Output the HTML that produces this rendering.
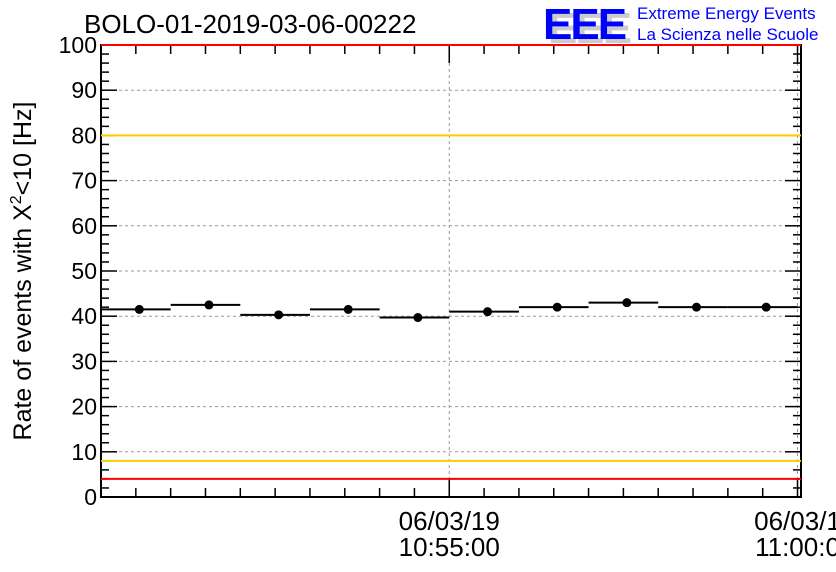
<!DOCTYPE html>
<html><head><meta charset="utf-8"><style>
body{margin:0;background:#fff;}
svg{display:block;font-family:"Liberation Sans",sans-serif;}
</style></head><body>
<svg id="chart" width="836" height="572" viewBox="0 0 836 572">
<text x="84" y="33" font-size="26" fill="#000">BOLO-01-2019-03-06-00222</text>
<g>
<text x="548" y="43" font-size="44" font-weight="bold" fill="#ccc" letter-spacing="-2">EEE</text>
<text x="543" y="39" font-size="44" font-weight="bold" fill="#0000ff" letter-spacing="-2">EEE</text>
<text x="637" y="19" font-size="17" fill="#0000ff">Extreme Energy Events</text>
<text x="637" y="40" font-size="17" fill="#0000ff">La Scienza nelle Scuole</text>
</g>
<text transform="translate(31,271) rotate(-90)" text-anchor="middle" font-size="25" fill="#000">Rate of events with X<tspan dy="-10" font-size="16">2</tspan><tspan dy="10">&lt;10 [Hz]</tspan></text>
<g id="grid"></g><g id="axes"></g><g id="marks"></g>
</svg>
<script>
const binStartSec=[0,60,120,180,240,300,360,420,480,540];
const rates=[41.5,42.5,40.3,41.5,39.7,41,42,43,42,42];
const yTicks=[0,10,20,30,40,50,60,70,80,90,100];
const xTickSec=[300,600];
const xTickLabels=[["06/03/19","10:55:00"],["06/03/1","11:00:0"]];
const redLevels=[100,4];
const orangeLevels=[80,8];
const L=101,R=801,T=45,B=497,tMax=603;
const sx=s=>L+(s/tMax)*(R-L);
const sy=v=>B-(v/100)*(B-T);
const NS="http://www.w3.org/2000/svg";
function mk(parent,tag,attrs){const e=document.createElementNS(NS,tag);for(const k in attrs)e.setAttribute(k,attrs[k]);document.getElementById(parent).appendChild(e);return e;}
yTicks.forEach(v=>{if(v>0&&v<100){const g=mk('grid','line',{x1:L,x2:R,y1:sy(v),y2:sy(v),stroke:'#999','stroke-dasharray':'3,3','stroke-width':1});

}
const t=mk('axes','text',{x:L-4,y:sy(v)+8,'text-anchor':'end','font-size':23});t.textContent=v;


});
for(let v=0;v<=100;v+=2){const len=v%10===0?16:8;mk('axes','line',{x1:L,x2:L+len,y1:sy(v),y2:sy(v),stroke:'#000','stroke-width':1.5});mk('axes','line',{x1:R-len,x2:R,y1:sy(v),y2:sy(v),stroke:'#000','stroke-width':1.5});}
xTickSec.forEach((s,i)=>{const g=mk('grid','line',{x1:sx(s),x2:sx(s),y1:T,y2:B,stroke:'#999','stroke-dasharray':'3,3','stroke-width':1});


[0,1].forEach(j=>{const t=mk('axes','text',{x:sx(s),y:530+j*26,'text-anchor':'middle','font-size':26});t.textContent=xTickLabels[i][j];

});});
for(let s=0;s<=600;s+=30){const len=s%300===0?18:9;mk('axes','line',{x1:sx(s),x2:sx(s),y1:B,y2:B-len,stroke:'#000','stroke-width':1.5});mk('axes','line',{x1:sx(s),x2:sx(s),y1:T,y2:T+len,stroke:'#000','stroke-width':1.5});}
const fr=mk('axes','rect',{x:L,y:T,width:R-L,height:B-T,fill:'none',stroke:'#000','stroke-width':2});


redLevels.forEach(v=>{const l=mk('marks','line',{x1:L,x2:R,y1:sy(v),y2:sy(v),stroke:'#ff0000','stroke-width':2});

});
orangeLevels.forEach(v=>{const l=mk('marks','line',{x1:L,x2:R,y1:sy(v),y2:sy(v),stroke:'#ffcc00','stroke-width':2});

});
rates.forEach((v,i)=>{const s0=binStartSec[i],s1=Math.min(s0+60,tMax);
const l=mk('marks','line',{x1:sx(s0),x2:sx(s1),y1:sy(v),y2:sy(v),stroke:'#000','stroke-width':2});


const c=mk('marks','circle',{cx:sx(s0+33),cy:sy(v),r:4.5,fill:'#000'});

});
</script>
</body></html>
